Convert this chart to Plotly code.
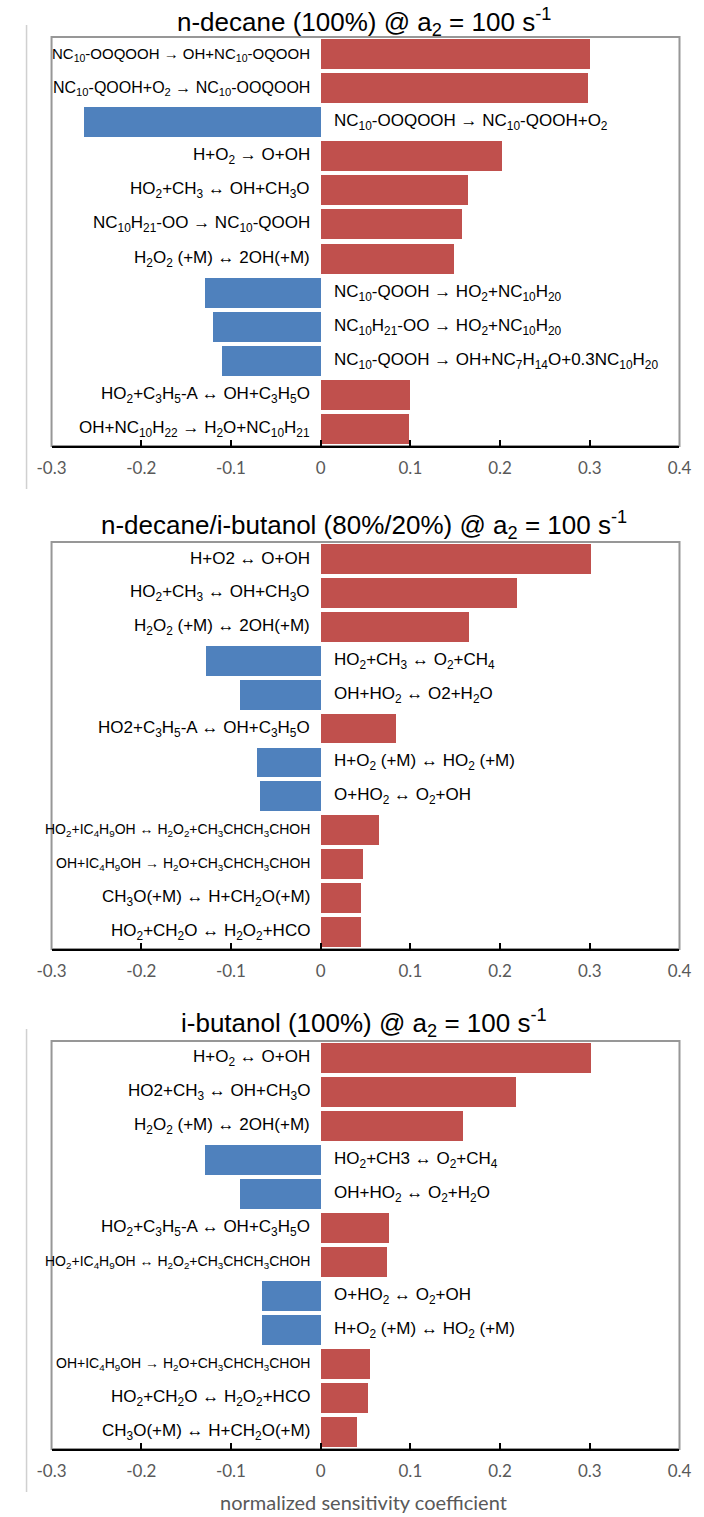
import plotly.graph_objects as go

W, H = 704, 1517

# ---- data -------------------------------------------------------------
titles = [
    "n-decane (100%) @ a<sub>2</sub> = 100 s<sup>-1</sup>",
    "n-decane/i-butanol (80%/20%) @ a<sub>2</sub> = 100 s<sup>-1</sup>",
    "i-butanol (100%) @ a<sub>2</sub> = 100 s<sup>-1</sup>",
]

decane_reactions = [
    "NC<sub>10</sub>-OOQOOH → OH+NC<sub>10</sub>-OQOOH",
    "NC<sub>10</sub>-QOOH+O<sub>2</sub> → NC<sub>10</sub>-OOQOOH",
    "NC<sub>10</sub>-OOQOOH → NC<sub>10</sub>-QOOH+O<sub>2</sub>",
    "H+O<sub>2</sub> → O+OH",
    "HO<sub>2</sub>+CH<sub>3</sub> ↔ OH+CH<sub>3</sub>O",
    "NC<sub>10</sub>H<sub>21</sub>-OO → NC<sub>10</sub>-QOOH",
    "H<sub>2</sub>O<sub>2</sub> (+M) ↔ 2OH(+M)",
    "NC<sub>10</sub>-QOOH → HO<sub>2</sub>+NC<sub>10</sub>H<sub>20</sub>",
    "NC<sub>10</sub>H<sub>21</sub>-OO → HO<sub>2</sub>+NC<sub>10</sub>H<sub>20</sub>",
    "NC<sub>10</sub>-QOOH → OH+NC<sub>7</sub>H<sub>14</sub>O+0.3NC<sub>10</sub>H<sub>20</sub>",
    "HO<sub>2</sub>+C<sub>3</sub>H<sub>5</sub>-A ↔ OH+C<sub>3</sub>H<sub>5</sub>O",
    "OH+NC<sub>10</sub>H<sub>22</sub> → H<sub>2</sub>O+NC<sub>10</sub>H<sub>21</sub>",
]
decane_values = [0.300, 0.298, -0.264, 0.202, 0.164, 0.157, 0.148,
                 -0.129, -0.121, -0.111, 0.099, 0.098]

blend_reactions = [
    "H+O2 ↔ O+OH",
    "HO<sub>2</sub>+CH<sub>3</sub> ↔ OH+CH<sub>3</sub>O",
    "H<sub>2</sub>O<sub>2</sub> (+M) ↔ 2OH(+M)",
    "HO<sub>2</sub>+CH<sub>3</sub> ↔ O<sub>2</sub>+CH<sub>4</sub>",
    "OH+HO<sub>2</sub> ↔ O2+H<sub>2</sub>O",
    "HO2+C<sub>3</sub>H<sub>5</sub>-A ↔ OH+C<sub>3</sub>H<sub>5</sub>O",
    "H+O<sub>2</sub> (+M) ↔ HO<sub>2</sub> (+M)",
    "O+HO<sub>2</sub> ↔ O<sub>2</sub>+OH",
    "HO<sub>2</sub>+IC<sub>4</sub>H<sub>9</sub>OH ↔ H<sub>2</sub>O<sub>2</sub>+CH<sub>3</sub>CHCH<sub>3</sub>CHOH",
    "OH+IC<sub>4</sub>H<sub>9</sub>OH → H<sub>2</sub>O+CH<sub>3</sub>CHCH<sub>3</sub>CHOH",
    "CH<sub>3</sub>O(+M) ↔ H+CH<sub>2</sub>O(+M)",
    "HO<sub>2</sub>+CH<sub>2</sub>O ↔ H<sub>2</sub>O<sub>2</sub>+HCO",
]
blend_values = [0.301, 0.218, 0.165, -0.128, -0.090, 0.083,
                -0.071, -0.068, 0.064, 0.047, 0.045, 0.045]

butanol_reactions = [
    "H+O<sub>2</sub> ↔ O+OH",
    "HO2+CH<sub>3</sub> ↔ OH+CH<sub>3</sub>O",
    "H<sub>2</sub>O<sub>2</sub> (+M) ↔ 2OH(+M)",
    "HO<sub>2</sub>+CH3 ↔ O<sub>2</sub>+CH<sub>4</sub>",
    "OH+HO<sub>2</sub> ↔ O<sub>2</sub>+H<sub>2</sub>O",
    "HO<sub>2</sub>+C<sub>3</sub>H<sub>5</sub>-A ↔ OH+C<sub>3</sub>H<sub>5</sub>O",
    "HO<sub>2</sub>+IC<sub>4</sub>H<sub>9</sub>OH ↔ H<sub>2</sub>O<sub>2</sub>+CH<sub>3</sub>CHCH<sub>3</sub>CHOH",
    "O+HO<sub>2</sub> ↔ O<sub>2</sub>+OH",
    "H+O<sub>2</sub> (+M) ↔ HO<sub>2</sub> (+M)",
    "OH+IC<sub>4</sub>H<sub>9</sub>OH → H<sub>2</sub>O+CH<sub>3</sub>CHCH<sub>3</sub>CHOH",
    "HO<sub>2</sub>+CH<sub>2</sub>O ↔ H<sub>2</sub>O<sub>2</sub>+HCO",
    "CH<sub>3</sub>O(+M) ↔ H+CH<sub>2</sub>O(+M)",
]
butanol_values = [0.301, 0.217, 0.158, -0.129, -0.090, 0.076,
                  0.073, -0.066, -0.066, 0.054, 0.052, 0.040]

x_ticks = [-0.3, -0.2, -0.1, 0, 0.1, 0.2, 0.3, 0.4]
x_tick_text = ["-0.3", "-0.2", "-0.1", "0", "0.1", "0.2", "0.3", "0.4"]
x_title = "normalized sensitivity coefficient"

# ---- styling ----------------------------------------------------------
POS_COLOR = "#C0504D"
NEG_COLOR = "#4F81BD"
LABEL_FONT = "Liberation Sans, Arial, sans-serif"
TICK_FONT = "Lato, Open Sans, sans-serif"
LONG_LABEL_SIZE = 14   # the long i-butanol H-abstraction labels


def py(px):
    """pixel row (from top) -> paper y"""
    return 1 - px / H


def px_x(px):
    return px / W


panels = [
    dict(title=titles[0], labels=decane_reactions, values=decane_values,
         top=37, bottom=446, title_y=22, left_rule=(25, 489),
         sizes={0: 15, 1: 16}),
    dict(title=titles[1], labels=blend_reactions, values=blend_values,
         top=542, bottom=949, title_y=525, left_rule=None,
         sizes={8: LONG_LABEL_SIZE, 9: LONG_LABEL_SIZE}),
    dict(title=titles[2], labels=butanol_reactions, values=butanol_values,
         top=1041, bottom=1449, title_y=1023, left_rule=(1029, 1492),
         sizes={6: LONG_LABEL_SIZE, 9: LONG_LABEL_SIZE}),
]

x_dom = [px_x(38), px_x(691)]

fig = go.Figure()
annotations = []
shapes = []

for k, p in enumerate(panels):
    n = k + 1
    xa = "x" if n == 1 else f"x{n}"
    ya = "y" if n == 1 else f"y{n}"
    idx = list(range(len(p["values"])))
    colors = [POS_COLOR if v >= 0 else NEG_COLOR for v in p["values"]]
    fig.add_trace(go.Bar(
        x=p["values"], y=idx, orientation="h", width=0.88,
        marker=dict(color=colors, line=dict(width=0)),
        xaxis=xa, yaxis=ya, showlegend=False, hoverinfo="x",
    ))

    dom_y = [py(p["bottom"]), py(p["top"])]
    fig.update_layout(**{
        ("xaxis" if n == 1 else f"xaxis{n}"): dict(
            domain=x_dom, anchor=ya, range=[-0.3, 0.4],
            tickvals=x_ticks, ticktext=x_tick_text,
            showgrid=False, zeroline=False,
            showline=True, linecolor="#000000", linewidth=1.5,
            ticks="inside", ticklen=6, tickwidth=1.5, tickcolor="#000000",
            tickfont=dict(family=TICK_FONT, size=17, color="#595959"),
            ticklabelstandoff=6, fixedrange=True,
        ),
        ("yaxis" if n == 1 else f"yaxis{n}"): dict(
            domain=dom_y, anchor=xa, range=[len(idx) - 0.5, -0.5],
            showticklabels=False, showgrid=False, zeroline=False,
            showline=False, ticks="", fixedrange=True,
        ),
    })

    # plot-area frame (top / left / right in gray; bottom is the x axis)
    shapes.append(dict(type="rect", xref=f"{xa} domain", yref=f"{ya} domain",
                       x0=0, x1=1, y0=0, y1=1, layer="below",
                       line=dict(color="#979797", width=2)))

    if p["left_rule"]:
        shapes.append(dict(type="line", xref="paper", yref="paper",
                           x0=px_x(12), x1=px_x(12),
                           y0=py(p["left_rule"][0]), y1=py(p["left_rule"][1]),
                           line=dict(color="#D0D0D0", width=1.5)))

    # chart title
    annotations.append(dict(text=p["title"], xref="paper", yref="paper",
                            x=px_x(363), y=py(p["title_y"]),
                            xanchor="center", yanchor="middle", showarrow=False,
                            font=dict(family=LABEL_FONT, size=26, color="#000000")))

    # reaction labels: left of zero for positive bars, right of zero for negative
    for i, (lab, v) in enumerate(zip(p["labels"], p["values"])):
        size = p["sizes"].get(i, 17)
        pos = v >= 0
        annotations.append(dict(
            text=lab, xref=xa, yref=ya, x=0, y=i,
            xanchor="right" if pos else "left", yanchor="middle",
            xshift=-9 if pos else 11, showarrow=False,
            font=dict(family=LABEL_FONT, size=size, color="#000000"),
        ))

annotations.append(dict(text=x_title, xref="paper", yref="paper",
                        x=px_x(362), y=py(1502), xanchor="center", yanchor="middle",
                        showarrow=False,
                        font=dict(family=TICK_FONT, size=20, color="#595959")))

fig.update_layout(
    width=W, height=H, margin=dict(l=0, r=0, t=0, b=0),
    paper_bgcolor="#FFFFFF", plot_bgcolor="#FFFFFF",
    bargap=0, annotations=annotations, shapes=shapes,
)

fig.write_html("out.html", config={"displayModeBar": False})
